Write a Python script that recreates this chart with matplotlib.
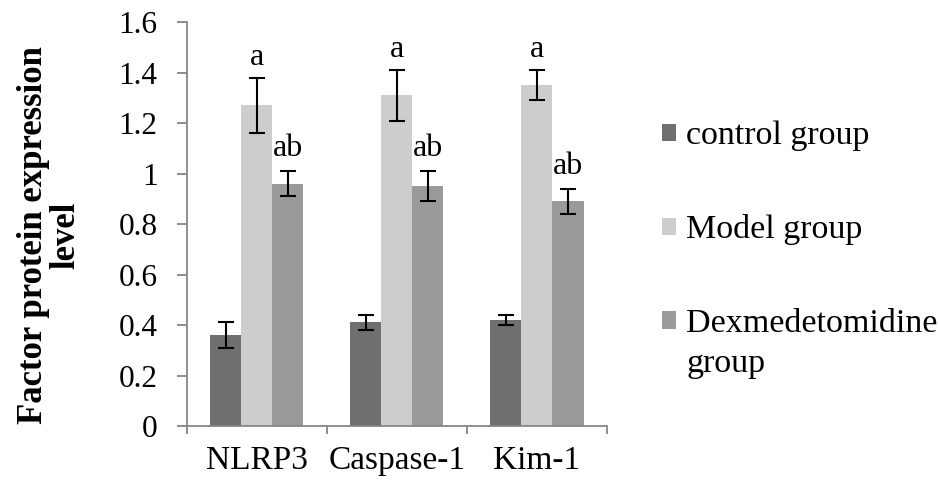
import numpy as np
import matplotlib.pyplot as plt
from matplotlib.patches import Patch, Rectangle
from matplotlib.legend_handler import HandlerPatch

# Data
markers = ['NLRP3', 'Caspase-1', 'Kim-1']
groups = ['control group', 'Model group', 'Dexmedetomidine\ngroup']
control = [0.36, 0.41, 0.42]
control_err = [0.05, 0.03, 0.02]
model = [1.27, 1.31, 1.35]
model_err = [0.11, 0.10, 0.06]
dex = [0.96, 0.95, 0.89]
dex_err = [0.05, 0.06, 0.05]
model_sig = ['a', 'a', 'a']
dex_sig = ['ab', 'ab', 'ab']

colors = ['#6f6f6f', '#cdcdcd', '#9a9a9a']
axis_grey = '#868686'

plt.rcParams['font.family'] = ['Liberation Serif', 'DejaVu Serif']

fig = plt.figure(figsize=(9.38, 4.8), dpi=100)
ax = fig.add_axes([0.199, 0.1125, 0.448, 0.8415])

x = np.arange(len(markers))
w = 1 / 4.5  # excel style gap width 150%
series = [(control, control_err), (model, model_err), (dex, dex_err)]
for k, (vals, errs) in enumerate(series):
    pos = x + (k - 1) * w
    ax.bar(pos, vals, width=w, color=colors[k], edgecolor='none', zorder=2)
    ax.errorbar(pos, vals, yerr=errs, fmt='none', ecolor='black',
                elinewidth=1.5, capsize=5.5, capthick=1.5, zorder=3)

# significance letters above error bars
for i in range(len(markers)):
    ax.text(x[i], model[i] + model_err[i] + 0.05, model_sig[i],
            ha='center', va='baseline', fontsize=23)
    ax.text(x[i] + w, dex[i] + dex_err[i] + 0.06, dex_sig[i],
            ha='center', va='baseline', fontsize=23)

ax.set_xlim(-0.5, len(markers) - 0.5)
ax.set_ylim(0, 1.6)
ax.set_yticks(np.arange(0, 1.61, 0.2))
ax.set_yticklabels(['0', '0.2', '0.4', '0.6', '0.8', '1', '1.2', '1.4', '1.6'])
ax.set_xticks(np.arange(-0.5, len(markers)), minor=False)
ax.set_xticklabels([])
ax.set_xticks(x, minor=True)
ax.set_xticklabels(markers, minor=True)

for side in ['top', 'right']:
    ax.spines[side].set_visible(False)
for side in ['left', 'bottom']:
    ax.spines[side].set_color(axis_grey)
    ax.spines[side].set_linewidth(1.3)

ax.tick_params(axis='y', direction='out', length=7, width=1.3, color=axis_grey,
               labelsize=22.5, pad=14)
ax.tick_params(axis='x', which='major', direction='out', length=6, width=1.3,
               color=axis_grey)
ax.tick_params(axis='x', which='minor', length=0, labelsize=24, pad=14)

fig.text(0.053, 0.51, 'Factor protein expression\nlevel', rotation=90,
         ha='center', va='center', multialignment='center',
         fontsize=25, fontweight='bold', linespacing=1.0)


# legend square for the wrapped label sits next to its first line
def raised_square(legend, orig_handle, xdescent, ydescent, width, height, fontsize):
    return Rectangle((-xdescent, -ydescent + 0.68 * fontsize), width, height)


handles = [Patch(facecolor=c, edgecolor='none') for c in colors]
leg = fig.legend(handles, groups, loc='upper left', bbox_to_anchor=(0.706, 0.748),
                 frameon=False, fontsize=24.5, handlelength=0.41, handleheight=0.41,
                 handletextpad=0.3, labelspacing=1.85, borderaxespad=0, borderpad=0,
                 handler_map={handles[2]: HandlerPatch(patch_func=raised_square)})
for t in leg.get_texts():
    t.set_linespacing(1.4)

fig.savefig('out.png', dpi=100)
